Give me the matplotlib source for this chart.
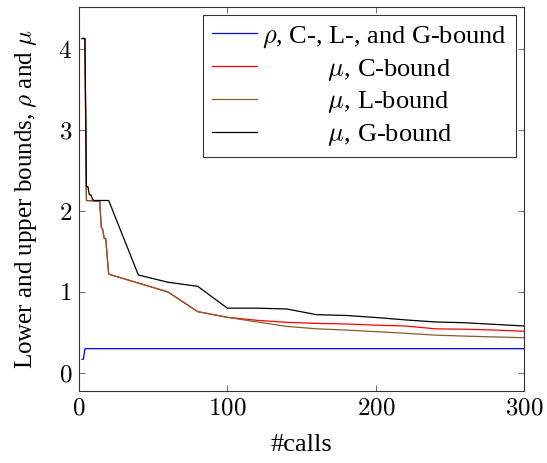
import matplotlib.pyplot as plt

# data
x_rho = [2, 3, 4, 300]
rho = [0.17, 0.17, 0.30, 0.30]

x_mu = [2, 4, 5, 14, 15, 16, 17, 18, 20, 40, 60, 80, 100,
        120, 140, 160, 180, 200, 220, 240, 260, 280, 300]
mu_c = [4.13, 4.13, 2.13, 2.12, 1.80, 1.77, 1.66, 1.66, 1.22, 1.11, 1.00, 0.757, 0.687,
        0.65, 0.625, 0.612, 0.605, 0.59, 0.58, 0.545, 0.54, 0.53, 0.515]
mu_l = [4.13, 4.13, 2.13, 2.12, 1.80, 1.77, 1.66, 1.66, 1.22, 1.11, 1.00, 0.757, 0.687,
        0.63, 0.575, 0.545, 0.53, 0.51, 0.49, 0.467, 0.455, 0.445, 0.435]

x_g = [2, 4, 5, 6, 7, 8, 9, 10, 20, 40, 60, 80, 100,
       120, 140, 160, 180, 200, 220, 240, 260, 280, 300]
mu_g = [4.13, 4.13, 2.30, 2.30, 2.20, 2.20, 2.15, 2.13, 2.13, 1.21, 1.12, 1.07, 0.80,
        0.80, 0.79, 0.72, 0.71, 0.685, 0.655, 0.63, 0.62, 0.60, 0.58]

xticks = [0, 100, 200, 300]
yticks = [0, 1, 2, 3, 4]

labels = [r"$\rho$, C-, L-, and G-bound",
          r"$\mu$, C-bound",
          r"$\mu$, L-bound",
          r"$\mu$, G-bound"]

plt.rcParams['font.family'] = ['Liberation Serif', 'DejaVu Serif']
plt.rcParams['mathtext.fontset'] = 'cm'

fig = plt.figure(figsize=(5.47, 4.63), dpi=100)
ax = fig.add_axes([0.1444, 0.156, 0.814, 0.829])

lw = 0.9
pad = " " * 10
ax.plot(x_rho, rho, color='blue', lw=lw, label=labels[0])
ax.plot(x_mu, mu_c, color='red', lw=lw, label=pad + labels[1])
ax.plot(x_mu, mu_l, color='#8a5a2e', lw=lw, label=pad + labels[2])
ax.plot(x_g, mu_g, color='black', lw=lw, label=pad + labels[3])

ax.set_xlim(0, 300)
ax.set_ylim(-0.22, 4.52)
ax.set_xticks(xticks)
ax.set_xticklabels(["$%d$" % v for v in xticks])
ax.set_yticks(yticks)
ax.set_yticklabels(["$%d$" % v for v in yticks])
ax.tick_params(direction='in', length=4, width=0.6, color='#555555',
               top=True, right=True, labelsize=18, pad=5)
for s in ax.spines.values():
    s.set_linewidth(0.8)
    s.set_color('#333333')

ax.set_xlabel("#calls", fontsize=19, labelpad=10)
ax.set_ylabel(r"Lower and upper bounds, $\rho$ and $\mu$", fontsize=18, labelpad=14)

leg = ax.legend(loc='upper right', fontsize=19, frameon=True, fancybox=False,
                edgecolor='black', handlelength=1.7, handletextpad=0.2,
                borderpad=0.35, labelspacing=0.25, borderaxespad=0.3)
leg.get_frame().set_linewidth(0.8)

fig.savefig("out.png", dpi=100)
